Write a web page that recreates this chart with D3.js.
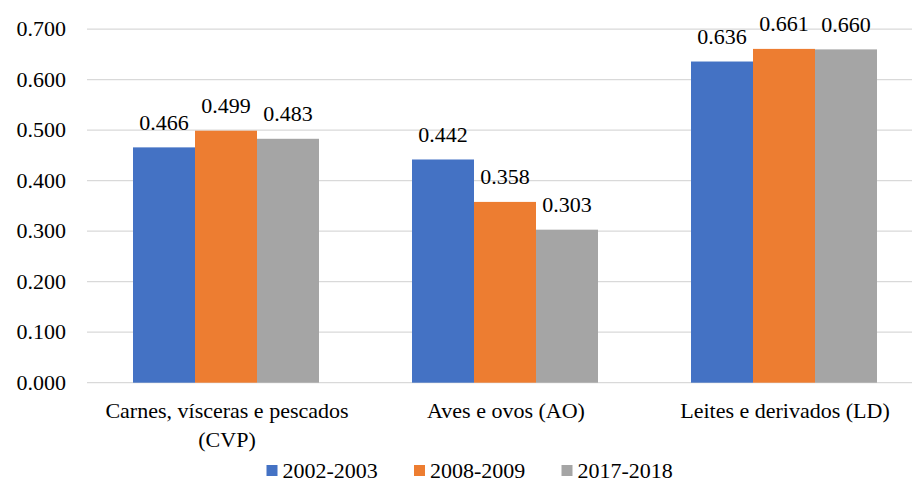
<!DOCTYPE html>
<html>
<head>
<meta charset="utf-8">
<script src="https://cdn.jsdelivr.net/npm/d3@7.9.0/dist/d3.min.js"></script>
<style>
  text, tspan { font-family: "Liberation Serif", serif !important; }
</style>
</head>
<body style="margin:0">
<svg width="912" height="482"></svg>
<script>
const categories = [["Carnes, vísceras e pescados", "(CVP)"], ["Aves e ovos (AO)"], ["Leites e derivados (LD)"]];
const series = ["2002-2003", "2008-2009", "2017-2018"];
const values2002 = [0.466, 0.442, 0.636];
const values2008 = [0.499, 0.358, 0.661];
const values2017 = [0.483, 0.303, 0.660];
const yTicks = [0, 0.1, 0.2, 0.3, 0.4, 0.5, 0.6, 0.7];
const colors = ["#4472C4", "#ED7D31", "#A5A5A5"];

const allValues = [values2002, values2008, values2017];
const FONT = "'Liberation Serif', serif";
const svg = d3.select("svg");

const x0 = d3.scaleBand()
  .domain(d3.range(categories.length))
  .range([86.5, 923.5])
  .paddingInner(1 / 3)
  .paddingOuter(1 / 6);

const x1 = d3.scaleBand()
  .domain(d3.range(series.length))
  .range([0, x0.bandwidth()]);

const y = d3.scaleLinear().domain([0, 0.7]).range([382.7, 29.2]);

// gridlines
svg.append("g").selectAll("line")
  .data(yTicks)
  .join("line")
  .attr("x1", 87).attr("x2", 912)
  .attr("y1", d => y(d)).attr("y2", d => y(d))
  .attr("stroke", "#d9d9d9").attr("stroke-width", 1.3);

// y labels
svg.append("g").selectAll("text")
  .data(yTicks)
  .join("text")
  .attr("x", 66).attr("y", d => y(d))
  .attr("dy", "0.33em")
  .attr("text-anchor", "end")
  .style("font-family", FONT)
  .style("font-size", "22px")
  .text(d => d.toFixed(3));

// bars
const groups = svg.append("g").selectAll("g")
  .data(categories.map((c, i) => i))
  .join("g")
  .attr("transform", i => `translate(${x0(i)},0)`);

groups.selectAll("rect")
  .data(i => allValues.map((vals, s) => ({ s, v: vals[i] })))
  .join("rect")
  .attr("x", d => x1(d.s))
  .attr("width", x1.bandwidth())
  .attr("y", d => y(d.v))
  .attr("height", d => y(0) - y(d.v))
  .attr("fill", d => colors[d.s]);

groups.selectAll("text")
  .data(i => allValues.map((vals, s) => ({ s, v: vals[i] })))
  .join("text")
  .attr("x", d => x1(d.s) + x1.bandwidth() / 2)
  .attr("y", d => y(d.v) - 17.5)
  .attr("text-anchor", "middle")
  .style("font-family", FONT)
  .style("font-size", "22px")
  .attr("fill", "#000")
  .text(d => d.v.toFixed(3));

// category labels
const cat = svg.append("g").selectAll("text")
  .data(categories)
  .join("text")
  .attr("x", (d, i) => x0(i) + x0.bandwidth() / 2 + 1)
  .attr("y", 418)
  .attr("text-anchor", "middle")
  .style("font-family", FONT)
  .style("font-size", "22px");
cat.selectAll("tspan")
  .data(d => d)
  .join("tspan")
  .attr("x", function () { return d3.select(this.parentNode).attr("x"); })
  .attr("dy", (d, j) => j === 0 ? 0 : 28.5)
  .text(d => d);

// legend
const legendX = [266.5, 414, 561.5];
const leg = svg.append("g").selectAll("g")
  .data(series)
  .join("g")
  .attr("transform", (d, i) => `translate(${legendX[i]},0)`);
leg.append("rect")
  .attr("x", 0).attr("y", 465)
  .attr("width", 11).attr("height", 11)
  .attr("fill", (d, i) => colors[i]);
leg.append("text")
  .attr("x", 16).attr("y", 478)
  .style("font-family", FONT)
  .style("font-size", "22px")
  .text(d => d);
</script>
</body>
</html>
